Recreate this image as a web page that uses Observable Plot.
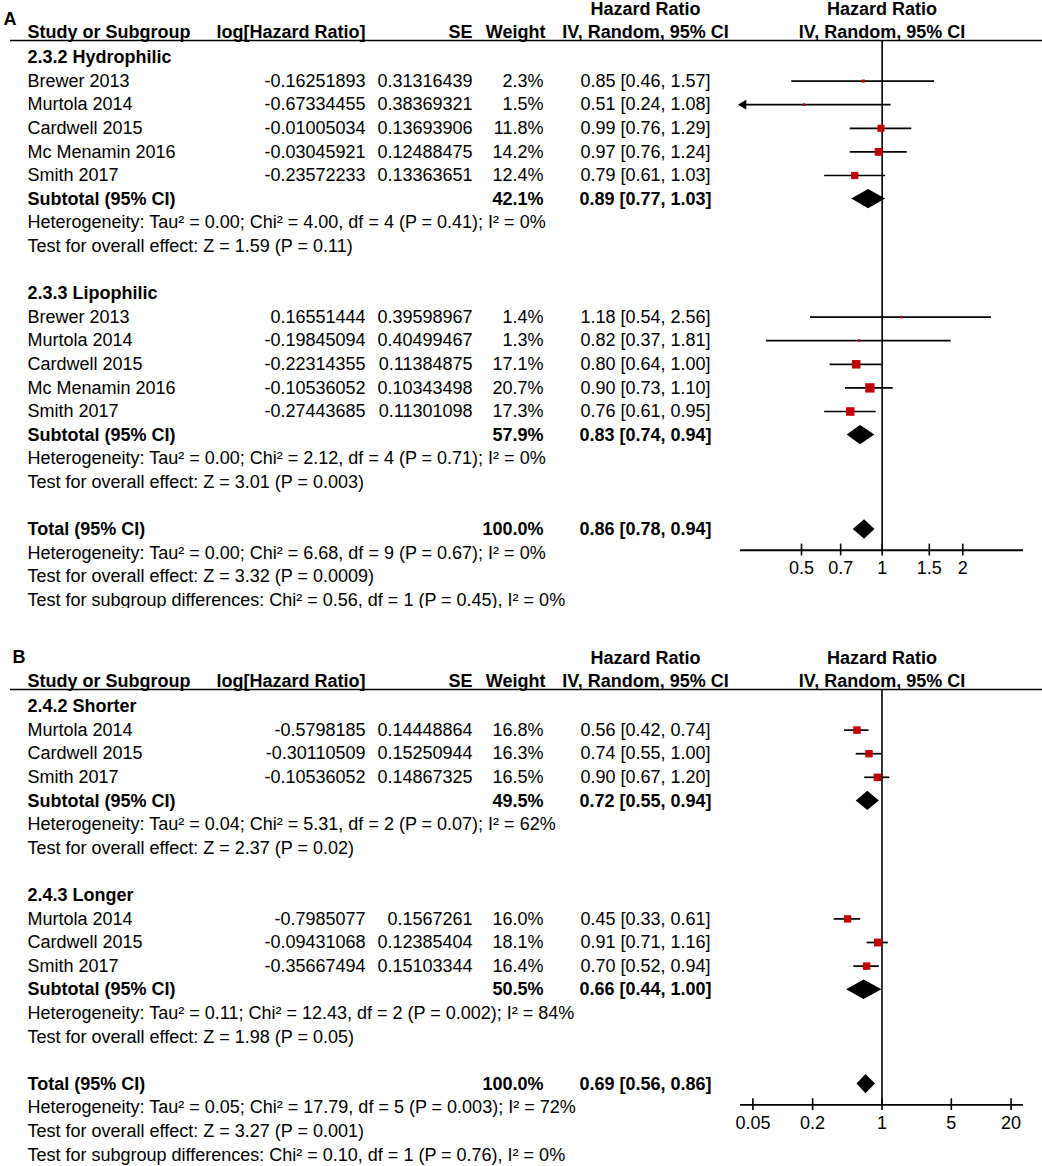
<!DOCTYPE html>
<html><head><meta charset="utf-8">
<script src="https://cdn.jsdelivr.net/npm/d3@7"></script>
<script src="https://cdn.jsdelivr.net/npm/@observablehq/plot@0.6"></script>
<style>
html,body{margin:0;padding:0;background:#fff;overflow:hidden;}
#chart svg{display:block;}
#gap{height:32px;}
</style></head><body><div id="chart"><div id="pa"></div><div id="gap"></div><div id="pb"></div></div>
<script>
// ---------- Panel A data ----------
const aGroupNames = ["2.3.2 Hydrophilic", "2.3.3 Lipophilic"];
const aStudies = [
  ["Brewer 2013", "Murtola 2014", "Cardwell 2015", "Mc Menamin 2016", "Smith 2017"],
  ["Brewer 2013", "Murtola 2014", "Cardwell 2015", "Mc Menamin 2016", "Smith 2017"]
];
const aLogHR = [
  [-0.16251893, -0.67334455, -0.01005034, -0.03045921, -0.23572233],
  [0.16551444, -0.19845094, -0.22314355, -0.10536052, -0.27443685]
];
const aSE = [
  [0.31316439, 0.38369321, 0.13693906, 0.12488475, 0.13363651],
  [0.39598967, 0.40499467, 0.11384875, 0.10343498, 0.11301098]
];
const aWeight = [[2.3, 1.5, 11.8, 14.2, 12.4], [1.4, 1.3, 17.1, 20.7, 17.3]];
const aHR = [[0.85, 0.51, 0.99, 0.97, 0.79], [1.18, 0.82, 0.80, 0.90, 0.76]];
const aLo = [[0.46, 0.24, 0.76, 0.76, 0.61], [0.54, 0.37, 0.64, 0.73, 0.61]];
const aHi = [[1.57, 1.08, 1.29, 1.24, 1.03], [2.56, 1.81, 1.00, 1.10, 0.95]];
const aSubWeight = [42.1, 57.9];
const aSub = [[0.89, 0.77, 1.03], [0.83, 0.74, 0.94]];
const aHet = [
  "Heterogeneity: Tau² = 0.00; Chi² = 4.00, df = 4 (P = 0.41); I² = 0%",
  "Heterogeneity: Tau² = 0.00; Chi² = 2.12, df = 4 (P = 0.71); I² = 0%"
];
const aTest = [
  "Test for overall effect: Z = 1.59 (P = 0.11)",
  "Test for overall effect: Z = 3.01 (P = 0.003)"
];
const aTotal = [0.86, 0.78, 0.94];
const aTotalNotes = [
  "Heterogeneity: Tau² = 0.00; Chi² = 6.68, df = 9 (P = 0.67); I² = 0%",
  "Test for overall effect: Z = 3.32 (P = 0.0009)",
  "Test for subgroup differences: Chi² = 0.56, df = 1 (P = 0.45), I² = 0%"
];
const aTicks = [0.5, 0.7, 1, 1.5, 2];
const aDomain = [0.296, 3.37];

// ---------- Panel B data ----------
const bGroupNames = ["2.4.2 Shorter", "2.4.3 Longer"];
const bStudies = [
  ["Murtola 2014", "Cardwell 2015", "Smith 2017"],
  ["Murtola 2014", "Cardwell 2015", "Smith 2017"]
];
const bLogHR = [
  [-0.5798185, -0.30110509, -0.10536052],
  [-0.7985077, -0.09431068, -0.35667494]
];
const bSE = [
  [0.14448864, 0.15250944, 0.14867325],
  [0.1567261, 0.12385404, 0.15103344]
];
const bWeight = [[16.8, 16.3, 16.5], [16.0, 18.1, 16.4]];
const bHR = [[0.56, 0.74, 0.90], [0.45, 0.91, 0.70]];
const bLo = [[0.42, 0.55, 0.67], [0.33, 0.71, 0.52]];
const bHi = [[0.74, 1.00, 1.20], [0.61, 1.16, 0.94]];
const bSubWeight = [49.5, 50.5];
const bSub = [[0.72, 0.55, 0.94], [0.66, 0.44, 1.00]];
const bHet = [
  "Heterogeneity: Tau² = 0.04; Chi² = 5.31, df = 2 (P = 0.07); I² = 62%",
  "Heterogeneity: Tau² = 0.11; Chi² = 12.43, df = 2 (P = 0.002); I² = 84%"
];
const bTest = [
  "Test for overall effect: Z = 2.37 (P = 0.02)",
  "Test for overall effect: Z = 1.98 (P = 0.05)"
];
const bTotal = [0.69, 0.56, 0.86];
const bTotalNotes = [
  "Heterogeneity: Tau² = 0.05; Chi² = 17.79, df = 5 (P = 0.003); I² = 72%",
  "Test for overall effect: Z = 3.27 (P = 0.001)",
  "Test for subgroup differences: Chi² = 0.10, df = 1 (P = 0.76), I² = 0%"
];
const bTicks = [0.05, 0.2, 1, 5, 20];
const bDomain = [0.0375, 26.7];

// ---------- build ----------
function buildRows(names, studies, logHR, se, weight, hr, lo, hi, subW, sub, het, test, total, totalNotes) {
  const rows = [];
  let r = 0;
  names.forEach((name, g) => {
    rows.push({row: r++, kind: "group", label: name});
    studies[g].forEach((s, i) => rows.push({
      row: r++, kind: "study", label: s, logHR: logHR[g][i], se: se[g][i],
      weight: weight[g][i], hr: hr[g][i], lo: lo[g][i], hi: hi[g][i]
    }));
    rows.push({row: r++, kind: "sub", label: "Subtotal (95% CI)", weight: subW[g], hr: sub[g][0], lo: sub[g][1], hi: sub[g][2]});
    rows.push({row: r++, kind: "note", label: het[g]});
    rows.push({row: r++, kind: "note", label: test[g]});
    r++;
  });
  rows.push({row: r++, kind: "total", label: "Total (95% CI)", weight: 100, hr: total[0], lo: total[1], hi: total[2]});
  totalNotes.forEach(t => rows.push({row: r++, kind: "note", label: t}));
  return rows;
}

const fmtCI = d => `${d.hr.toFixed(2)} [${d.lo.toFixed(2)}, ${d.hi.toFixed(2)}]`;
const fmtW = d => `${d.weight.toFixed(1)}%`;

function panel(letter, letterDx, letterRow, rows, domain, ticks, rmax, height, y0) {
  const rowH = 23.6;
  const nRows = d3.max(rows, d => d.row);
  const totalRow = rows.find(d => d.kind === "total").row;
  const axisRow = totalRow + 0.88;
  const headRow = -0.72;
  const studies = rows.filter(d => d.kind === "study");
  const clipped = studies.filter(d => d.lo < domain[0]);
  const summaries = rows.filter(d => d.kind === "sub" || d.kind === "total");
  const h = 0.41;
  const diamonds = summaries.flatMap((d, k) => [
    {id: k, x: d.lo, y1: d.row, y2: d.row},
    {id: k, x: d.hr, y1: d.row - h, y2: d.row + h},
    {id: k, x: d.hi, y1: d.row, y2: d.row}
  ]);
  const boldRows = rows.filter(d => d.kind === "group" || d.kind === "sub" || d.kind === "total");
  const plainRows = rows.filter(d => d.kind === "study" || d.kind === "note");
  const font = "Liberation Sans, Arial, Helvetica, sans-serif";
  const hdr = -1.06, hdr2 = -2.03;
  return Plot.plot({
    width: 1042, height, margin: 0,
    style: {fontFamily: font, fontSize: "18px", color: "#000", background: "#fff"},
    x: {type: "log", domain, range: [740, 1023], axis: null},
    y: {type: "linear", domain: [0, nRows], range: [y0, y0 + rowH * nRows], axis: null},
    r: {type: "sqrt", domain: [0, 100], range: [0, rmax]},
    marks: [
      // headers
      Plot.text([letter], {text: d => d, frameAnchor: "left", dx: letterDx, y: () => letterRow, fontWeight: "bold", textAnchor: "start"}),
      Plot.text(["Study or Subgroup"], {text: d => d, frameAnchor: "left", dx: 27, y: () => hdr, fontWeight: "bold", textAnchor: "start"}),
      Plot.text(["log[Hazard Ratio]"], {text: d => d, frameAnchor: "left", dx: 365, y: () => hdr, fontWeight: "bold", textAnchor: "end"}),
      Plot.text(["SE"], {text: d => d, frameAnchor: "left", dx: 472, y: () => hdr, fontWeight: "bold", textAnchor: "end"}),
      Plot.text(["Weight"], {text: d => d, frameAnchor: "left", dx: 545, y: () => hdr, fontWeight: "bold", textAnchor: "end"}),
      Plot.text(["Hazard Ratio", "IV, Random, 95% CI"], {text: d => d, frameAnchor: "left", dx: 645, y: (d, i) => i ? hdr : hdr2, fontWeight: "bold", textAnchor: "middle"}),
      Plot.text(["Hazard Ratio", "IV, Random, 95% CI"], {text: d => d, x: () => Math.sqrt(domain[0] * domain[1]), y: (d, i) => i ? hdr : hdr2, fontWeight: "bold", textAnchor: "middle"}),
      Plot.ruleY([headRow], {insetLeft: 10, stroke: "#000", strokeWidth: 1.6}),
      // forest
      Plot.ruleX([1], {y1: () => headRow, y2: () => axisRow, stroke: "#000", strokeWidth: 1.6}),
      Plot.ruleY(studies, {y: "row", x1: d => Math.max(d.lo, domain[0]), x2: d => Math.min(d.hi, domain[1]), stroke: "#000", strokeWidth: 1.7}),
      Plot.dot(clipped, {x: () => domain[0], y: "row", symbol: "triangle", r: 3.6, rotate: -90, dx: 3, fill: "#000", stroke: "none"}),
      Plot.dot(studies, {x: "hr", y: "row", r: "weight", symbol: "square", fill: "#c00000", stroke: "none"}),
      Plot.areaY(diamonds, {x: "x", y1: "y1", y2: "y2", z: "id", fill: "#000", curve: "linear"}),
      // axis
      Plot.ruleY([axisRow], {x1: () => domain[0], x2: () => domain[1], stroke: "#000", strokeWidth: 1.8}),
      Plot.ruleX(ticks, {x: d => d, y1: () => axisRow - 0.26, y2: () => axisRow + 0.24, stroke: "#000", strokeWidth: 1.6}),
      Plot.text(ticks, {x: d => d, y: () => axisRow + 0.78, text: d => String(d), textAnchor: "middle"}),
      // table columns
      Plot.text(plainRows, {y: "row", text: "label", frameAnchor: "left", dx: 27, textAnchor: "start"}),
      Plot.text(boldRows, {y: "row", text: "label", frameAnchor: "left", dx: 27, textAnchor: "start", fontWeight: "bold"}),
      Plot.text(studies, {y: "row", text: d => String(d.logHR), frameAnchor: "left", dx: 365, textAnchor: "end"}),
      Plot.text(studies, {y: "row", text: d => String(d.se), frameAnchor: "left", dx: 472, textAnchor: "end"}),
      Plot.text(studies, {y: "row", text: fmtW, frameAnchor: "left", dx: 543, textAnchor: "end"}),
      Plot.text(summaries, {y: "row", text: fmtW, frameAnchor: "left", dx: 543, textAnchor: "end", fontWeight: "bold"}),
      Plot.text(studies, {y: "row", text: fmtCI, frameAnchor: "left", dx: 645, textAnchor: "middle"}),
      Plot.text(summaries, {y: "row", text: fmtCI, frameAnchor: "left", dx: 645, textAnchor: "middle", fontWeight: "bold"})
    ]
  });
}

const rowsA = buildRows(aGroupNames, aStudies, aLogHR, aSE, aWeight, aHR, aLo, aHi, aSubWeight, aSub, aHet, aTest, aTotal, aTotalNotes);
const rowsB = buildRows(bGroupNames, bStudies, bLogHR, bSE, bWeight, bHR, bLo, bHi, bSubWeight, bSub, bHet, bTest, bTotal, bTotalNotes);

document.getElementById("pa").append(panel("A", 3, -1.61, rowsA, aDomain, aTicks, 11.6, 608, 57));
document.getElementById("pb").append(panel("B", 12, -2.08, rowsB, bDomain, bTicks, 10.4, 526, 66));
</script></body></html>
